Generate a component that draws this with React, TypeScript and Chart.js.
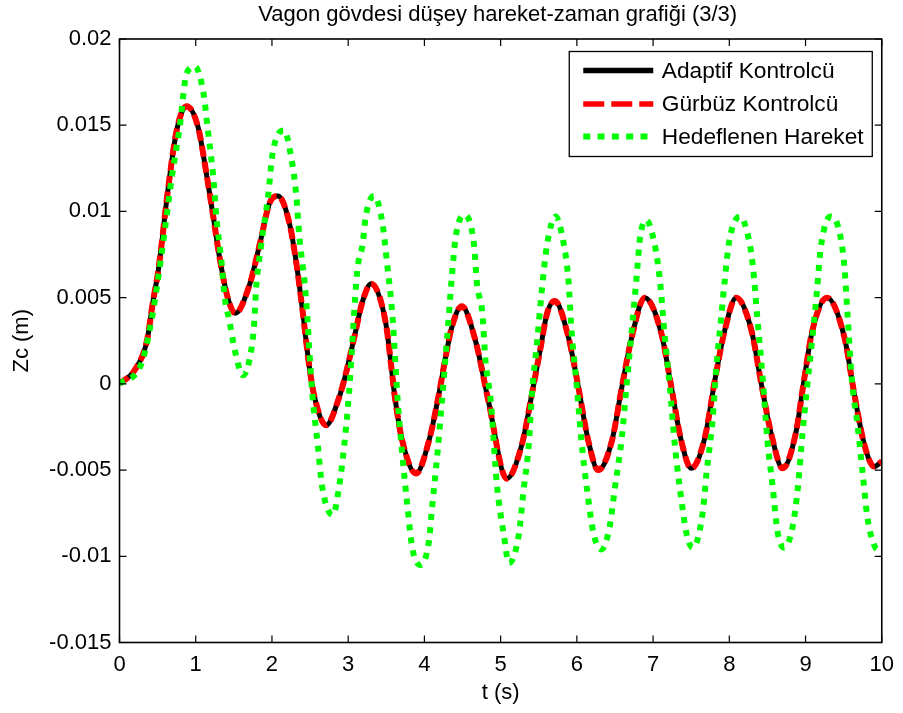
import React, { useEffect, useRef } from "react";
import { Chart, registerables } from "chart.js";

Chart.register(...registerables);

const FONT = '"Liberation Sans", Arial, Helvetica, sans-serif';

const titleText = "Vagon gövdesi düşey hareket-zaman grafiği (3/3)";
const xAxisLabel = "t (s)";
const yAxisLabel = "Zc (m)";
const seriesNames = ["Adaptif Kontrolcü", "Gürbüz Kontrolcü", "Hedeflenen Hareket"];

const xTickValues = [0, 1, 2, 3, 4, 5, 6, 7, 8, 9, 10];
const yTickValues = [-0.015, -0.01, -0.005, 0, 0.005, 0.01, 0.015, 0.02];
const yTickLabels = ["-0.015", "-0.01", "-0.005", "0", "0.005", "0.01", "0.015", "0.02"];

// controller responses (adaptive and robust overlap)
const controlT = [
  0, 0.2, 0.36, 0.44, 0.51, 0.64, 0.75, 0.88, 1.03, 1.14, 1.23, 1.31, 1.42, 1.52,
  1.71, 1.84, 1.97, 2.08, 2.23, 2.32, 2.4, 2.49, 2.56, 2.71, 2.88, 2.97, 3.08, 3.19,
  3.3, 3.49, 3.62, 3.71, 3.89, 4.06, 4.19, 4.28, 4.36, 4.49, 4.67, 4.84, 5.08, 5.28,
  5.41, 5.52, 5.61, 5.71, 5.89, 6.02, 6.15, 6.28, 6.46, 6.59, 6.72, 6.89, 7.11, 7.24,
  7.37, 7.5, 7.68, 7.81, 7.94, 8.09, 8.29, 8.42, 8.55, 8.7, 8.87, 8.98, 9.09, 9.28,
  9.51, 9.64, 9.77, 9.9, 10,
];
const adaptiveZ = [
  0, 0.0008, 0.0025, 0.0048, 0.0066, 0.0114, 0.0147, 0.0161, 0.0149, 0.0122, 0.0097, 0.0074, 0.005, 0.0041,
  0.0058, 0.0081, 0.0105, 0.0109, 0.0093, 0.007, 0.0043, 0.001, -0.0008, -0.0024, -0.0008, 0.0006, 0.0027, 0.0048,
  0.0058, 0.0036, -0.001, -0.0033, -0.0052, -0.0033, -0.0006, 0.0016, 0.0033, 0.0045, 0.0025, -0.001, -0.0055, -0.0035,
  -0.0006, 0.002, 0.0041, 0.0048, 0.0027, -0.0002, -0.0033, -0.005, -0.0033, -0.0002, 0.0027, 0.005, 0.0029, -0.0002,
  -0.0033, -0.0049, -0.0031, 0.0002, 0.0031, 0.005, 0.0031, 0.0, -0.0029, -0.0049, -0.0029, 0.0002, 0.0031, 0.005,
  0.0027, -0.0006, -0.0035, -0.0048, -0.0045,
];
const robustZ = [
  0, 0.0008, 0.0025, 0.0048, 0.0066, 0.0114, 0.0147, 0.0161, 0.0149, 0.0122, 0.0097, 0.0074, 0.005, 0.0041,
  0.0058, 0.0081, 0.0105, 0.0109, 0.0093, 0.007, 0.0043, 0.001, -0.0008, -0.0024, -0.0008, 0.0006, 0.0027, 0.0048,
  0.0058, 0.0036, -0.001, -0.0033, -0.0052, -0.0033, -0.0006, 0.0016, 0.0033, 0.0045, 0.0025, -0.001, -0.0055, -0.0035,
  -0.0006, 0.002, 0.0041, 0.0048, 0.0027, -0.0002, -0.0033, -0.005, -0.0033, -0.0002, 0.0027, 0.005, 0.0029, -0.0002,
  -0.0033, -0.0049, -0.0031, 0.0002, 0.0031, 0.005, 0.0031, 0.0, -0.0029, -0.0049, -0.0029, 0.0002, 0.0031, 0.005,
  0.0027, -0.0006, -0.0035, -0.0048, -0.0045,
];

// desired motion
const targetT = [
  0, 0.29, 0.42, 0.49, 0.6, 0.68, 0.79, 0.88, 0.99, 1.1, 1.16, 1.23, 1.27, 1.34, 1.38, 1.44, 1.51, 1.62,
  1.73, 1.77, 1.79, 1.86, 1.95, 2.01, 2.16, 2.25, 2.32, 2.36, 2.43, 2.47, 2.49, 2.53, 2.6, 2.66, 2.8,
  2.88, 2.95, 3.01, 3.12, 3.19, 3.23, 3.34, 3.45, 3.51, 3.58, 3.65, 3.71, 3.78, 3.84, 3.95, 4.06, 4.1,
  4.17, 4.23, 4.3, 4.36, 4.41, 4.52, 4.65, 4.69, 4.76, 4.8, 4.87, 4.95, 5.04, 5.11, 5.24, 5.3, 5.37,
  5.41, 5.48, 5.54, 5.61, 5.72, 5.82, 5.89, 5.93, 6.0, 6.06, 6.13, 6.22, 6.32, 6.43, 6.5, 6.59, 6.65,
  6.72, 6.78, 6.83, 6.91, 7.02, 7.09, 7.15, 7.22, 7.28, 7.35, 7.44, 7.52, 7.65, 7.7, 7.78, 7.83, 7.89,
  7.94, 8.0, 8.14, 8.26, 8.31, 8.37, 8.44, 8.5, 8.57, 8.63, 8.72, 8.83, 8.9, 8.96, 9.02, 9.09, 9.15,
  9.2, 9.33, 9.44, 9.51, 9.55, 9.61, 9.68, 9.75, 9.81, 9.88, 9.94, 10,
];
const targetZ = [
  0, 0.0012, 0.0037, 0.0056, 0.0091, 0.0118, 0.0149, 0.018, 0.0184, 0.0169, 0.0147, 0.012, 0.0097, 0.007, 0.005, 0.0037, 0.002, 0.0005,
  0.002, 0.0037, 0.0054, 0.0081, 0.0109, 0.0134, 0.0147, 0.0132, 0.0109, 0.0085, 0.0058, 0.0035, 0.002, -0.0006, -0.0035, -0.006, -0.0076,
  -0.006, -0.0035, -0.0006, 0.0066, 0.0081, 0.0097, 0.0109, 0.0093, 0.007, 0.004, -0.001, -0.0041, -0.0072, -0.0095, -0.0105, -0.0091, -0.0072,
  -0.0041, -0.001, 0.0028, 0.0062, 0.0085, 0.0098, 0.0081, 0.0058, 0.0041, 0.0014, -0.001, -0.0058, -0.0087, -0.0104, -0.0087, -0.0062, -0.0035,
  -0.0006, 0.0025, 0.0054, 0.0081, 0.0097, 0.0083, 0.006, 0.0031, -0.0002, -0.0033, -0.006, -0.0087, -0.0096, -0.0083, -0.006, -0.0031, -0.0002,
  0.0031, 0.006, 0.0085, 0.0095, 0.0081, 0.006, 0.0029, -0.0002, -0.0033, -0.006, -0.0087, -0.0095, -0.0075, -0.0052, -0.0021, 0.001, 0.0037,
  0.006, 0.0083, 0.0097, 0.0083, 0.0068, 0.0037, 0.0002, -0.0033, -0.006, -0.0085, -0.0095, -0.0083, -0.006, -0.0029, -0.0002, 0.0027, 0.0054,
  0.0079, 0.0097, 0.0089, 0.0068, 0.0041, 0.0001, -0.0023, -0.0052, -0.0077, -0.0091, -0.0096, -0.0096,
];

const seriesColors = ["#000000", "#ff0000", "#00ff00"];

const toPoints = (xs: number[], ys: number[]) => xs.map((x, i) => ({ x, y: ys[i] }));

const framePlugin = {
  id: "matlabFrame",
  afterDatasetsDraw(chart: any) {
    const { ctx, chartArea } = chart;
    const { left, right, top, bottom } = chartArea;
    const xs = chart.scales.x;
    const ys = chart.scales.y;
    ctx.save();
    ctx.strokeStyle = "#000";
    ctx.lineWidth = 1.2;
    ctx.beginPath();
    for (const v of xTickValues) {
      const px = xs.getPixelForValue(v);
      ctx.moveTo(px, bottom);
      ctx.lineTo(px, bottom - 7);
      ctx.moveTo(px, top);
      ctx.lineTo(px, top + 7);
    }
    for (const v of yTickValues) {
      const py = ys.getPixelForValue(v);
      ctx.moveTo(left, py);
      ctx.lineTo(left + 7, py);
      ctx.moveTo(right, py);
      ctx.lineTo(right - 7, py);
    }
    ctx.stroke();
    ctx.lineWidth = 1.6;
    ctx.strokeRect(left, top, right - left, bottom - top);

    // title
    ctx.fillStyle = "#000";
    ctx.font = `22px ${FONT}`;
    ctx.textAlign = "center";
    ctx.textBaseline = "alphabetic";
    ctx.fillText(titleText, (left + right) / 2 - 3, 21);

    // legend
    const bx = right - 312.5;
    const by = top + 12.5;
    const bw = 303;
    const bh = 105;
    ctx.fillStyle = "#fff";
    ctx.fillRect(bx, by, bw, bh);
    ctx.lineWidth = 1.3;
    ctx.strokeStyle = "#000";
    ctx.strokeRect(bx, by, bw, bh);
    const rowY = [by + 19, by + 52.5, by + 85];
    const dashes = [[], [21, 7], [7, 7.3]];
    const widths = [5.5, 5.5, 6];
    seriesNames.forEach((name, i) => {
      ctx.save();
      ctx.strokeStyle = seriesColors[i];
      ctx.lineWidth = widths[i];
      ctx.lineCap = "butt";
      ctx.setLineDash(dashes[i]);
      ctx.beginPath();
      ctx.moveTo(bx + 14, rowY[i]);
      ctx.lineTo(bx + 84, rowY[i]);
      ctx.stroke();
      ctx.restore();
      ctx.fillStyle = "#000";
      ctx.font = `22.7px ${FONT}`;
      ctx.textAlign = "left";
      ctx.textBaseline = "middle";
      ctx.fillText(name, bx + 92.5, rowY[i] + 1);
    });
    ctx.restore();
  },
};

export default function App() {
  const canvasRef = useRef<HTMLCanvasElement | null>(null);

  useEffect(() => {
    document.body.style.margin = "0";
    const canvas = canvasRef.current;
    if (!canvas) return;
    const chart = new Chart(canvas, {
      type: "line",
      data: {
        datasets: [
          {
            label: seriesNames[0],
            data: toPoints(controlT, adaptiveZ),
            borderColor: seriesColors[0],
            borderWidth: 5,
            pointRadius: 0,
            cubicInterpolationMode: "monotone",
            fill: false,
            order: 3,
          },
          {
            label: seriesNames[1],
            data: toPoints(controlT, robustZ),
            borderColor: seriesColors[1],
            borderWidth: 6,
            borderDash: [11, 5],
            pointRadius: 0,
            cubicInterpolationMode: "monotone",
            fill: false,
            order: 2,
          },
          {
            label: seriesNames[2],
            data: toPoints(targetT, targetZ),
            borderColor: seriesColors[2],
            borderWidth: 6,
            borderDash: [6, 7],
            pointRadius: 0,
            cubicInterpolationMode: "monotone",
            fill: false,
            order: 1,
          },
        ],
      },
      options: {
        responsive: false,
        animation: false,
        devicePixelRatio: 1,
        layout: { padding: { left: 0, top: 39, right: 18, bottom: 0 } },
        plugins: {
          legend: { display: false },
          title: { display: false },
          tooltip: { enabled: false },
        },
        scales: {
          x: {
            type: "linear",
            min: 0,
            max: 10,
            grid: { display: false, drawTicks: false },
            border: { display: false },
            afterBuildTicks: (s: any) => {
              s.ticks = xTickValues.map((v) => ({ value: v }));
            },
            afterFit: (s: any) => {
              s.height = 70.5;
            },
            ticks: {
              color: "#000",
              font: { family: FONT, size: 22 },
              padding: 9,
              maxRotation: 0,
              autoSkip: false,
              callback: (v: any) => String(v),
            },
            title: {
              display: true,
              text: xAxisLabel,
              color: "#000",
              font: { family: FONT, size: 22 },
              padding: { top: 0, bottom: 7 },
            },
          },
          y: {
            type: "linear",
            min: -0.015,
            max: 0.02,
            grid: { display: false, drawTicks: false },
            border: { display: false },
            afterBuildTicks: (s: any) => {
              s.ticks = yTickValues.map((v) => ({ value: v }));
            },
            afterFit: (s: any) => {
              s.width = 119.5;
            },
            ticks: {
              color: "#000",
              font: { family: FONT, size: 22 },
              padding: 8,
              autoSkip: false,
              callback: (v: any) => {
                const idx = yTickValues.findIndex((t) => Math.abs(t - Number(v)) < 1e-9);
                return idx >= 0 ? yTickLabels[idx] : "";
              },
            },
            title: {
              display: true,
              text: yAxisLabel,
              color: "#000",
              font: { family: FONT, size: 22 },
              padding: { top: 9, bottom: 0 },
            },
          },
        },
      },
      plugins: [framePlugin],
    });
    return () => chart.destroy();
  }, []);

  return (
    <div style={{ width: 903, height: 713, background: "#fff" }}>
      <canvas ref={canvasRef} width={903} height={713} style={{ display: "block" }} />
    </div>
  );
}
